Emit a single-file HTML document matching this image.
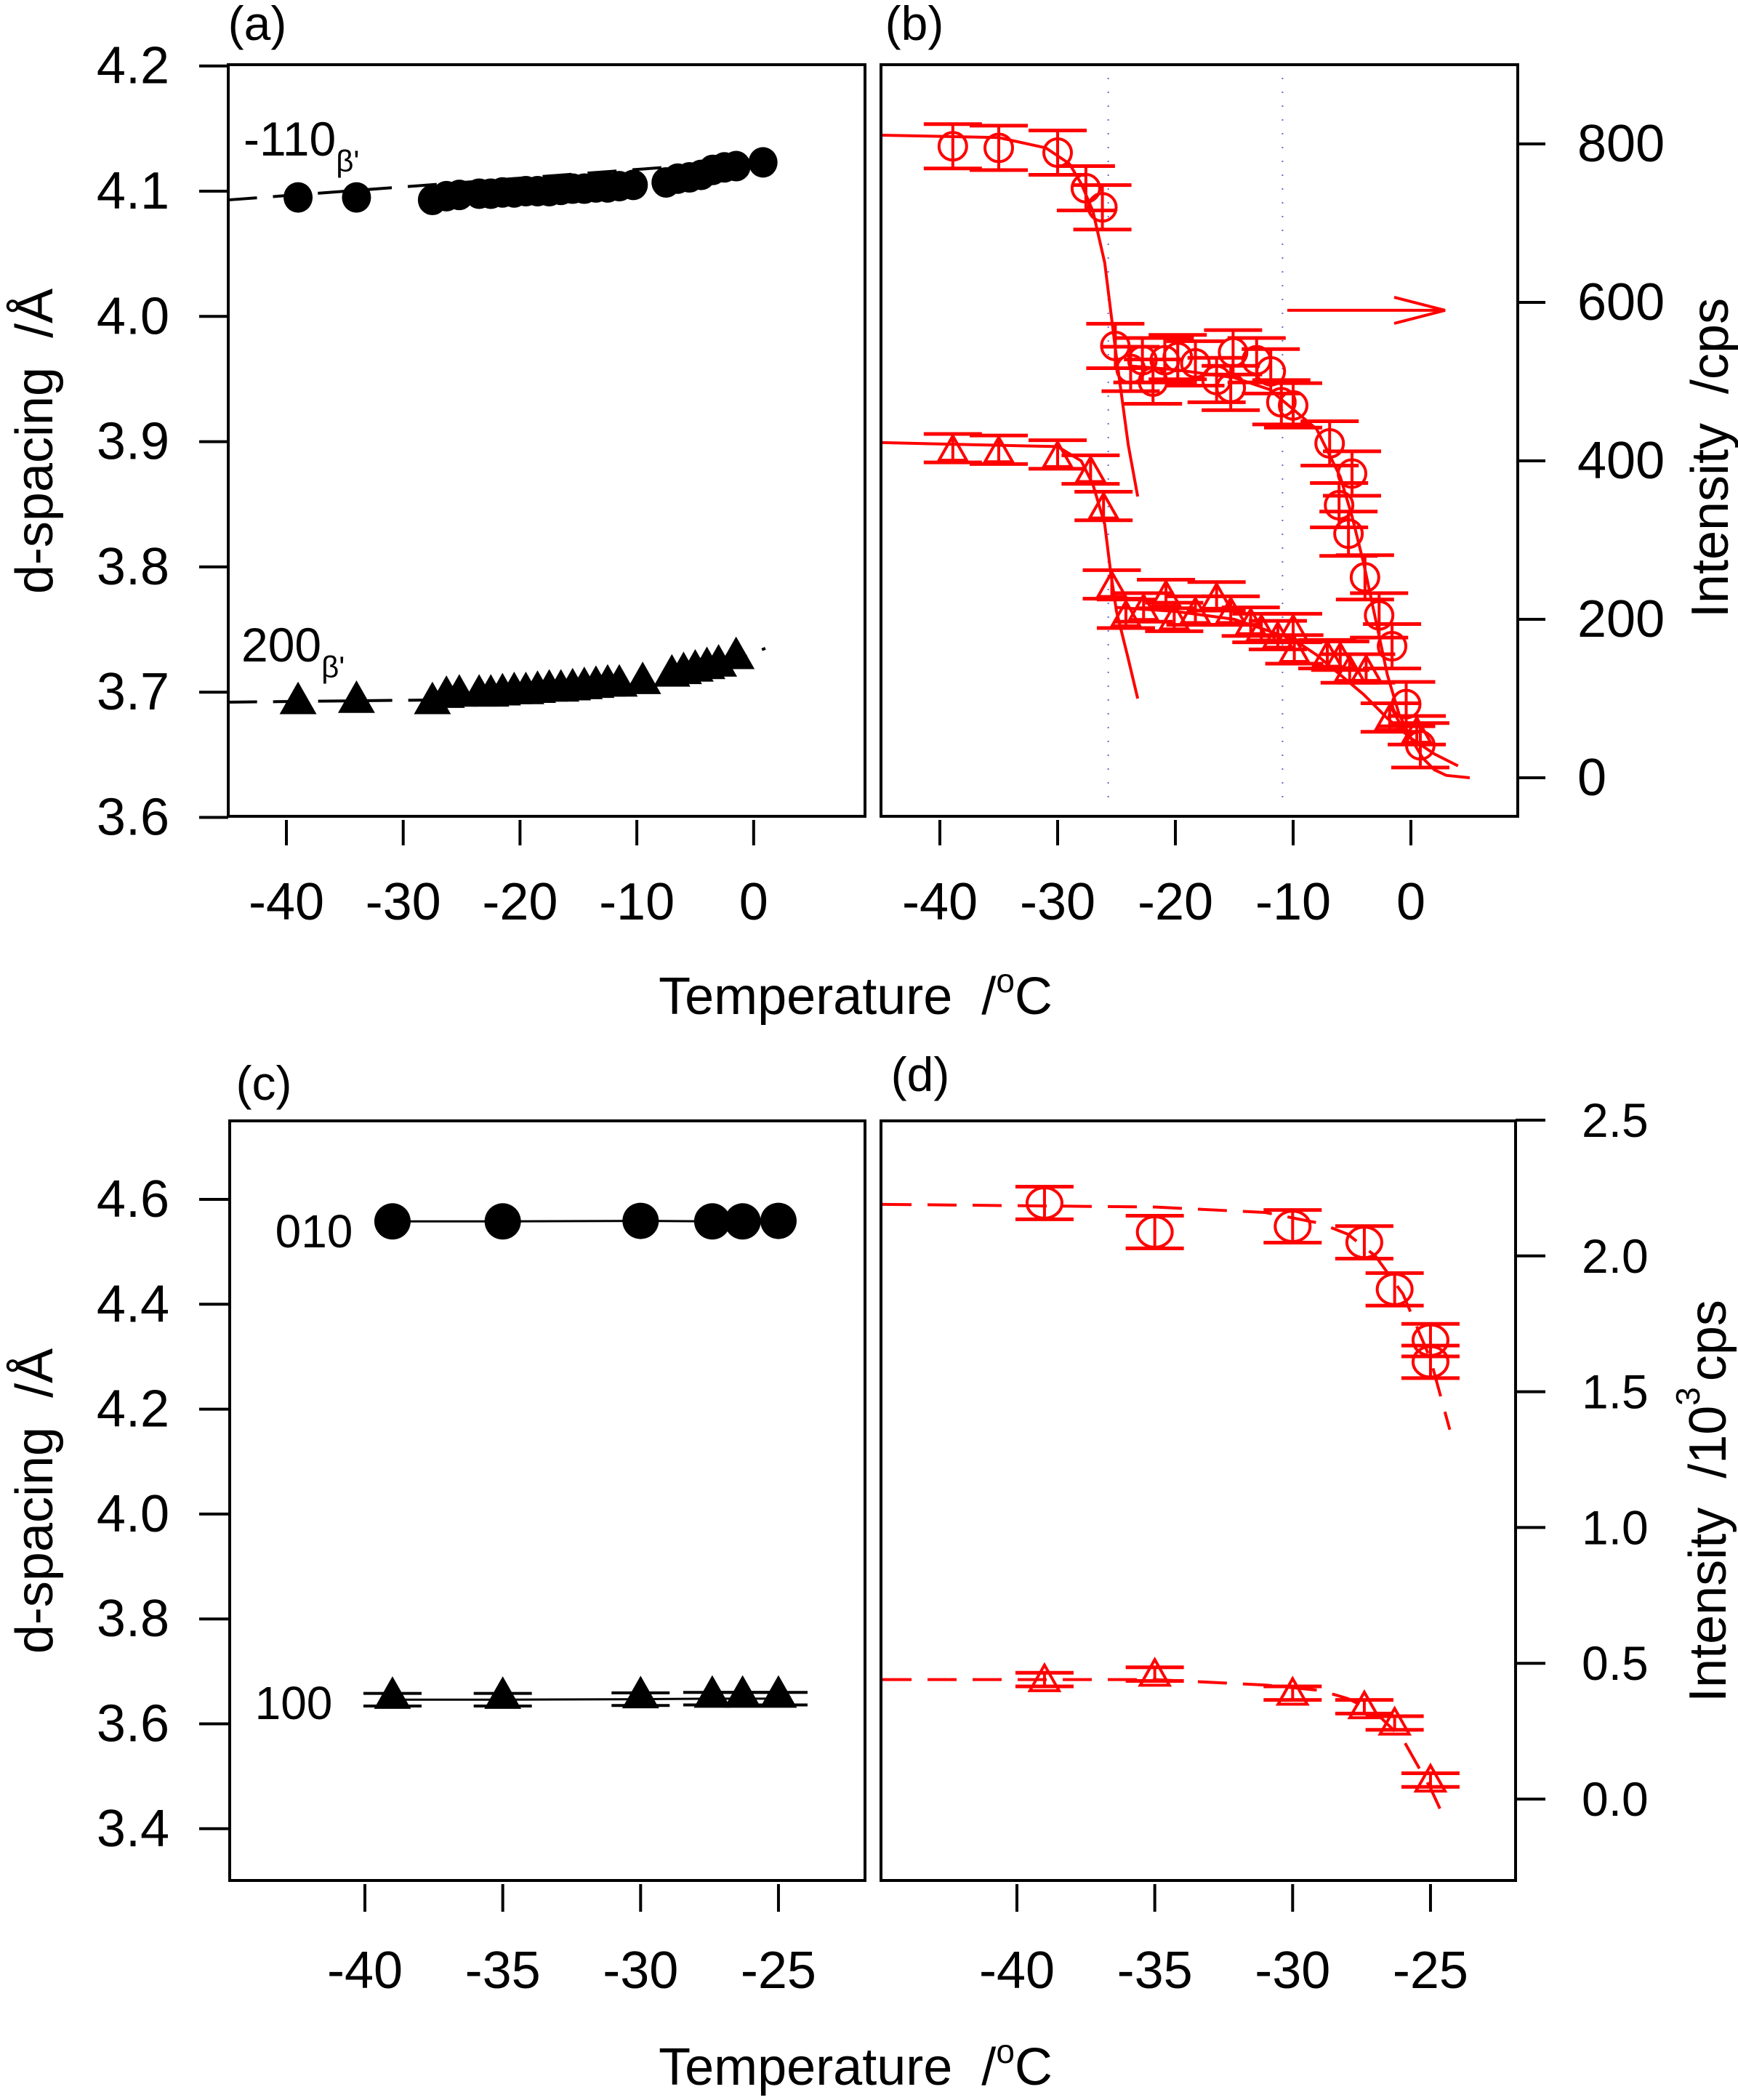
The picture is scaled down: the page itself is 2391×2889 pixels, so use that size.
<!DOCTYPE html>
<html><head><meta charset="utf-8"><style>
html,body{margin:0;padding:0;background:#fff}
svg{display:block}
text{font-family:"Liberation Sans",Arial,sans-serif;fill:#000}
</style></head><body>
<svg id="fig" width="2391" height="2889" viewBox="0 0 2391 2889" xmlns="http://www.w3.org/2000/svg">
<g id="gA"></g>
<g id="gB"></g>
<g id="gC"></g>
<g id="gD"></g>
<text x="1177" y="1395" font-size="72" text-anchor="middle">Temperature<tspan dx="40">/</tspan><tspan font-size="46" dy="-30">o</tspan><tspan dy="30">C</tspan></text>
<text x="1177" y="2868" font-size="72" text-anchor="middle">Temperature<tspan dx="40">/</tspan><tspan font-size="46" dy="-30">o</tspan><tspan dy="30">C</tspan></text>
</svg>
<script>
// ---------- Panel (a) data ----------
const aCircT = [-39,-34,-27.5,-26.3,-25.2,-23.5,-22.5,-21.5,-20.5,-19.5,-18.5,-17.5,-16.5,-15.5,-14.5,-13.5,-12.5,-11.5,-10.3,-7.5,-6.5,-5.5,-4.5,-3.5,-2.5,-1.5,0.8];
const aCircD = [4.095,4.095,4.093,4.096,4.097,4.098,4.098,4.099,4.099,4.1,4.1,4.1,4.101,4.102,4.102,4.103,4.103,4.104,4.105,4.107,4.110,4.111,4.113,4.117,4.119,4.120,4.123];
const aTriT = [-39,-34,-27.5,-26.3,-25.2,-23.5,-22.5,-21.5,-20.5,-19.5,-18.5,-17.5,-16.5,-15.5,-14.5,-13.5,-12.5,-11.5,-9.5,-7,-6,-5,-4,-3,-1.5];
const aTriD = [3.692,3.693,3.692,3.697,3.698,3.698,3.698,3.699,3.7,3.7,3.701,3.702,3.702,3.703,3.704,3.705,3.706,3.706,3.708,3.714,3.716,3.718,3.72,3.722,3.728];
const aLineCircT = [-45,1];
const aLineCircD = [4.093,4.125];
const aLineTriT = [-45,-25,-10,-5,1];
const aLineTriD = [3.692,3.694,3.703,3.712,3.735];
const aYTicks = ["4.2","4.1","4.0","3.9","3.8","3.7","3.6"];
const aXTicks = ["-40","-30","-20","-10","0"];
// ---------- Panel (b) data ----------
const bCircT = [-38.9,-35,-30,-27.6,-26.2,-25.1,-23.8,-22.8,-21.9,-20.9,-19.8,-18.3,-16.5,-15.3,-15.1,-13.1,-11.9,-11,-10,-6.9,-5,-6.1,-5.3,-3.9,-2.7,-1.6,-0.4,0.8];
const bCircI = [797,795,789,744,720,545,516,527,500,527,531,523,502,492,537,527,513,474,470,422,384,344,308,253,205,166,93,41];
const bTriT = [-38.9,-35,-30,-27.2,-26.1,-25.4,-24.2,-22.7,-20.8,-20.1,-18.3,-16.5,-15.3,-13.6,-12.7,-11.3,-10,-9.9,-7.1,-6,-5.2,-3.8,-1.8,0.5];
const bTriI = [416,414,408,389,343,244,207,215,232,203,211,229,211,197,189,180,189,162,156,154,138,138,76,60];
const bFitA1T = [-45,-35,-31,-29,-28,-27,-26,-25.5,-25,-24,-23.2];
const bFitA1I = [811,808,795,775,750,715,650,590,530,420,355];
const bFitB1T = [-24,-20,-15,-12,-10,-8,-6,-5,-4,-3,-2,-1,0,1,2,3,5];
const bFitB1I = [520,515,505,490,465,440,380,330,270,200,130,80,50,25,10,3,0];
const bFitA2T = [-45,-30,-28,-27,-26,-25.5,-25,-24,-23.2];
const bFitA2I = [423,418,400,370,320,260,210,150,100];
const bFitB2T = [-25,-20,-15,-12,-10,-8,-6,-4,-2,0,2,4];
const bFitB2I = [215,210,200,185,175,155,130,105,75,50,30,15];
const bVLines = [-25.7,-10.9];
const bYTicks = ["800","600","400","200","0"];
const bYVals = [800,600,400,200,0];
// ---------- Panel (c) data ----------
const cT = [-39,-35,-30,-27.4,-26.3,-25];
const c010 = [4.558,4.558,4.559,4.558,4.558,4.559];
const c100 = [3.646,3.646,3.647,3.648,3.648,3.648];
const cYTicks = ["4.6","4.4","4.2","4.0","3.8","3.6","3.4"];
const cXTicks = ["-40","-35","-30","-25"];
// ---------- Panel (d) data ----------
const dCircT = [-39,-35,-30,-27.4,-26.3,-25,-25];
const dCircI = [2.195,2.088,2.109,2.05,1.877,1.69,1.61];
const dTriT = [-39,-35,-30,-27.4,-26.3,-25];
const dTriI = [0.44,0.46,0.39,0.34,0.28,0.07];
const dFitCT = [-45,-35,-31,-29,-28,-27,-26,-25,-24.3];
const dFitCI = [2.19,2.18,2.16,2.12,2.08,2.0,1.86,1.62,1.36];
const dFitTT = [-45,-35,-31,-29,-28,-27,-26,-25,-24.5];
const dFitTI = [0.44,0.44,0.42,0.40,0.37,0.32,0.22,0.04,-0.07];
const dYTicks = ["2.5","2.0","1.5","1.0","0.5","0.0"];
const dYVals = [2.5,2.0,1.5,1.0,0.5,0.0];

const NS="http://www.w3.org/2000/svg";
function mk(parent,tag,attrs){const e=document.createElementNS(NS,tag);for(const k in attrs)e.setAttribute(k,attrs[k]);parent.appendChild(e);return e;}
function line(g,x1,y1,x2,y2,c,w,dash){return mk(g,'line',{x1,y1,x2,y2,stroke:c,'stroke-width':w,'stroke-dasharray':dash||'none'});}
function poly(g,xs,ys,c,w,dash){return mk(g,'polyline',{points:xs.map((x,i)=>x+','+ys[i]).join(' '),fill:'none',stroke:c,'stroke-width':w,'stroke-dasharray':dash||'none'});}
function txt(g,x,y,s,size,anchor){const t=mk(g,'text',{x,y,'font-size':size,'text-anchor':anchor||'middle','dominant-baseline':'central'});t.textContent=s;return t;}
function tri(g,cx,cy,r,fill,stroke){const h=r*1.1;return mk(g,'polygon',{points:`${cx},${cy-h} ${cx-r},${cy+h*0.6} ${cx+r},${cy+h*0.6}`,fill,stroke,'stroke-width':4});}

// ===== Panel A =====
(function(){
const g=document.getElementById('gA');
const sx=t=>394+(t+40)*16.07, sy=d=>263+(4.1-d)*1723;
const box=mk(g,'rect',{x:314,y:89,width:1190-314,height:1123-89,fill:'none',stroke:'#000','stroke-width':4});

const yv=[4.2,4.1,4.0,3.9,3.8,3.7,3.6];
yv.forEach((v,i)=>{line(g,274,sy(v),314,sy(v),'#000',4);const t=txt(g,233,sy(v),aYTicks[i],72,'end');});
[-40,-30,-20,-10,0].forEach((v,i)=>{line(g,sx(v),1128,sx(v),1163,'#000',4);const t=txt(g,sx(v),1241,aXTicks[i],72);});
const l1=poly(g,aLineCircT.map(sx),aLineCircD.map(sy),'#000',4,'40 22');
const l2=poly(g,aLineTriT.map(sx),aLineTriD.map(sy),'#000',4,'40 22');
aCircT.forEach((t,i)=>{const c=mk(g,'ellipse',{cx:sx(t),cy:sy(aCircD[i]),rx:20,ry:21,fill:'#000'});});
aTriT.forEach((t,i)=>{const p=tri(g,sx(t),sy(aTriD[i]),22,'#000','#000');});
const lbl=mk(g,'text',{x:335,y:214,'font-size':66});lbl.innerHTML='-110<tspan font-size="42" dy="22">β\'</tspan>';
const lb2=mk(g,'text',{x:332,y:910,'font-size':66});lb2.innerHTML='200<tspan font-size="42" dy="22">β\'</tspan>';
const pa=txt(g,354,32,'(a)',66);
const yl=mk(g,'text',{x:0,y:0,'font-size':72,'text-anchor':'middle','dominant-baseline':'central',transform:'translate(48,607) rotate(-90)'});yl.innerHTML='d-spacing<tspan dx="40">/Å</tspan>';
})();

// ===== Panel B =====
(function(){
const g=document.getElementById('gB');
const sx=t=>1293+(t+40)*16.2, sy=v=>1070-v*1.09;
const box=mk(g,'rect',{x:1212,y:89,width:2088-1212,height:1123-89,fill:'none',stroke:'#000','stroke-width':4});

bVLines.forEach(v=>{const l=line(g,sx(v),107,sx(v),1107,'#6a6acf',2,'2 17');});
bYVals.forEach((v,i)=>{line(g,2088,sy(v),2126,sy(v),'#000',4);const t=txt(g,2170,sy(v),bYTicks[i],72,'start');});
[-40,-30,-20,-10,0].forEach((v,i)=>{line(g,sx(v),1128,sx(v),1163,'#000',4);const t=txt(g,sx(v),1241,aXTicks[i],72);});
const R='#ff0000';
[[bFitA1T,bFitA1I],[bFitB1T,bFitB1I],[bFitA2T,bFitA2I],[bFitB2T,bFitB2I]].forEach(p=>{const l=poly(g,p[0].map(t=>Math.max(sx(t),1214)),p[1].map(sy),R,4);});
function eb(t,v,e){const x=sx(t);line(g,x,sy(v-e),x,sy(v+e),R,4);line(g,x-40,sy(v-e),x+40,sy(v-e),R,5);line(g,x-40,sy(v+e),x+40,sy(v+e),R,5);}
bCircT.forEach((t,i)=>{eb(t,bCircI[i],28);const c=mk(g,'circle',{cx:sx(t),cy:sy(bCircI[i]),r:19,fill:'none',stroke:R,'stroke-width':4});});
bTriT.forEach((t,i)=>{eb(t,bTriI[i],18);const p=tri(g,sx(t),sy(bTriI[i])+4,19,'none',R);});
const ar=line(g,sx(-10.5),sy(590),sx(2.9),sy(590),R,4);
poly(g,[sx(2.9)-70,sx(2.9),sx(2.9)-70],[sy(590)-18,sy(590),sy(590)+18],R,4);
const pb=txt(g,1258,32,'(b)',66);
const yl=mk(g,'text',{x:0,y:0,'font-size':72,'text-anchor':'middle','dominant-baseline':'central',transform:'translate(2353,630) rotate(-90)'});yl.innerHTML='Intensity<tspan dx="40">/cps</tspan>';
})();

// ===== Panel C =====
(function(){
const g=document.getElementById('gC');
const sx=t=>502+(t+40)*37.93, sy=d=>1650+(4.6-d)*721.5;
const box=mk(g,'rect',{x:316,y:1542,width:1190-316,height:2587-1542,fill:'none',stroke:'#000','stroke-width':4});

[4.6,4.4,4.2,4.0,3.8,3.6,3.4].forEach((v,i)=>{line(g,274,sy(v),316,sy(v),'#000',4);const t=txt(g,233,sy(v),cYTicks[i],72,'end');});
[-40,-35,-30,-25].forEach((v,i)=>{line(g,sx(v),2592,sx(v),2630,'#000',4);const t=txt(g,sx(v),2711,cXTicks[i],72);});
const l1=poly(g,cT.map(sx),c010.map(sy),'#000',3);
const l2=poly(g,cT.map(sx),c100.map(sy),'#000',3);
cT.forEach((t,i)=>{const x=sx(t),y=sy(c100[i]);line(g,x-40,sy(c100[i]+0.012),x+40,sy(c100[i]+0.012),'#000',4);line(g,x-40,sy(c100[i]-0.012),x+40,sy(c100[i]-0.012),'#000',4);
const p=tri(g,x,y-4,22,'#000','#000');
const c=mk(g,'ellipse',{cx:x,cy:sy(c010[i]),rx:25,ry:25,fill:'#000'});});
const a=txt(g,432,1694,'010',64);
const b=txt(g,404,2343,'100',64);
const pc=txt(g,363,1490,'(c)',66);
const yl=mk(g,'text',{x:0,y:0,'font-size':72,'text-anchor':'middle','dominant-baseline':'central',transform:'translate(48,2065) rotate(-90)'});yl.innerHTML='d-spacing<tspan dx="40">/Å</tspan>';
})();

// ===== Panel D =====
(function(){
const g=document.getElementById('gD');
const sx=t=>1399+(t+40)*37.93, sy=v=>2475-v*373.6;
const box=mk(g,'rect',{x:1212,y:1542,width:2085-1212,height:2587-1542,fill:'none',stroke:'#000','stroke-width':4});

dYVals.forEach((v,i)=>{line(g,2085,sy(v),2126,sy(v),'#000',4);const t=txt(g,2176,sy(v),dYTicks[i],66,'start');});
[-40,-35,-30,-25].forEach((v,i)=>{line(g,sx(v),2592,sx(v),2630,'#000',4);const t=txt(g,sx(v),2711,cXTicks[i],72);});
const R='#ff0000';
const f1=poly(g,dFitCT.map(t=>Math.max(sx(t),1214)),dFitCI.map(sy),R,4,'40 22');
const f2=poly(g,dFitTT.map(t=>Math.max(sx(t),1214)),dFitTI.map(sy),R,4,'40 22');
function eb(t,v,e){const x=sx(t);line(g,x,sy(v-e),x,sy(v+e),R,4);line(g,x-40,sy(v-e),x+40,sy(v-e),R,5);line(g,x-40,sy(v+e),x+40,sy(v+e),R,5);}
dCircT.forEach((t,i)=>{eb(t,dCircI[i],0.06);const c=mk(g,'ellipse',{cx:sx(t),cy:sy(dCircI[i]),rx:24,ry:21,fill:'none',stroke:R,'stroke-width':4});});
dTriT.forEach((t,i)=>{eb(t,dTriI[i],0.025);const p=tri(g,sx(t),sy(dTriI[i])+2,20,'none',R);});
const pd=txt(g,1266,1478,'(d)',66);
const yl=mk(g,'text',{x:0,y:0,'font-size':72,'text-anchor':'middle','dominant-baseline':'central',transform:'translate(2350,2065) rotate(-90)'});yl.innerHTML='Intensity<tspan dx="40">/10</tspan><tspan font-size="46" dy="-28">3</tspan><tspan dy="28" dx="8">cps</tspan>';
})();
</script>
</body></html>
